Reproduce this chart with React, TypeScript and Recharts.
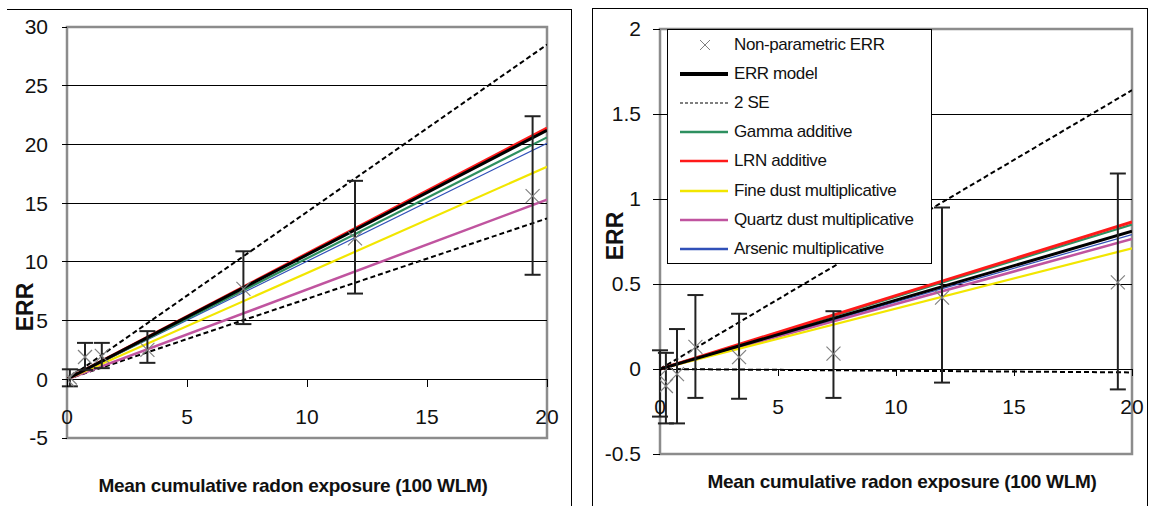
import React from 'react';
import {
  ComposedChart,
  Line,
  Scatter,
  ErrorBar,
  XAxis,
  YAxis,
  ReferenceArea,
  ReferenceLine,
  Legend,
} from 'recharts';

// ---------- shared ----------
const curveX = [0, 20];
const xTicks = [0, 5, 10, 15, 20];

// ---------- left panel ----------
const leftErrModel = [0, 21.2];
const leftUpper2SE = [0, 28.5];
const leftLower2SE = [0, 13.7];
const leftGamma = [0, 20.6];
const leftLrn = [0, 21.4];
const leftFineDust = [0, 18.1];
const leftQuartz = [0, 15.3];
const leftArsenic = [0, 20.1];

const leftPtX = [0, 0.12, 0.75, 1.45, 3.35, 7.35, 12.0, 19.4];
const leftPtY = [0, 0.15, 1.9, 2.0, 2.5, 7.7, 12.0, 15.6];
const leftPtLo = [0, -0.6, 0.8, 0.95, 1.4, 4.7, 7.3, 8.9];
const leftPtHi = [0, 0.85, 3.1, 3.1, 4.1, 10.9, 16.9, 22.4];

const leftYTicks = [-5, 0, 5, 10, 15, 20, 25, 30];
const leftGrid = [0, 5, 10, 15, 20, 25];

// ---------- right panel ----------
const rightErrModel = [0, 0.81];
const rightUpper2SE = [0, 1.64];
const rightLower2SE = [0, -0.02];
const rightGamma = [0, 0.85];
const rightLrn = [0, 0.865];
const rightFineDust = [0, 0.71];
const rightQuartz = [0, 0.765];
const rightArsenic = [0, 0.79];

const rightPtX = [0, 0.25, 0.72, 1.5, 3.35, 7.35, 11.95, 19.4];
const rightPtY = [-0.04, -0.1, -0.03, 0.13, 0.07, 0.09, 0.42, 0.51];
const rightPtLo = [-0.28, -0.32, -0.32, -0.17, -0.175, -0.17, -0.08, -0.12];
const rightPtHi = [0.11, 0.095, 0.235, 0.435, 0.325, 0.34, 0.95, 1.15];

const rightYTicks = [-0.5, 0, 0.5, 1, 1.5, 2];
const rightGrid = [0, 0.5, 1, 1.5];

const legendLabels = [
  'Non-parametric ERR',
  'ERR model',
  '2 SE',
  'Gamma additive',
  'LRN additive',
  'Fine dust multiplicative',
  'Quartz dust multiplicative',
  'Arsenic multiplicative',
];

// ---------- styles ----------
const FONT = '"Liberation Sans", Arial, sans-serif';
const C = {
  err: '#000000',
  se: '#000000',
  gamma: '#2e9060',
  lrn: '#ff1a1a',
  fine: '#f2e600',
  quartz: '#c0549f',
  arsenic: '#3050b8',
  marker: '#808080',
  bar: '#222222',
  frame: '#8c8c8c',
};
const legendStyles = [
  { kind: 'x' },
  { kind: 'line', color: C.err, w: 4 },
  { kind: 'line', color: C.se, w: 1.2, dash: '3 2' },
  { kind: 'line', color: C.gamma, w: 2.5 },
  { kind: 'line', color: C.lrn, w: 2.5 },
  { kind: 'line', color: C.fine, w: 2.5 },
  { kind: 'line', color: C.quartz, w: 2.5 },
  { kind: 'line', color: C.arsenic, w: 2.5 },
];

const mkLine = (ys: number[]) => curveX.map((x, i) => ({ x, y: ys[i] }));
const mkPts = (xs: number[], ys: number[], lo: number[], hi: number[]) =>
  xs.map((x, i) => ({
    x,
    y: ys[i],
    err: hi[i] > lo[i] ? [ys[i] - lo[i], hi[i] - ys[i]] : null,
  }));

const XMark = (props: any) => {
  const { cx, cy } = props;
  if (cx == null || cy == null) return null;
  const r = 7;
  return (
    <g>
      <line x1={cx - r} y1={cy - r} x2={cx + r} y2={cy + r} stroke={C.marker} strokeWidth={1.2} />
      <line x1={cx - r} y1={cy + r} x2={cx + r} y2={cy - r} stroke={C.marker} strokeWidth={1.2} />
    </g>
  );
};

const makeXTick = (zeroOffset: number, labelOffset: number, markLen: number) => (props: any) => {
  const { x, y, payload } = props;
  const zy = y - zeroOffset;
  return (
    <g>
      <line x1={x} y1={zy} x2={x} y2={zy + markLen} stroke="#000" strokeWidth={1} shapeRendering="crispEdges" />
      <text
        x={x}
        y={zy + labelOffset}
        textAnchor="middle"
        dominantBaseline="central"
        fontSize={21}
        fill="#111"
        fontFamily={FONT}
      >
        {payload.value}
      </text>
    </g>
  );
};

const LegendBox = () => (
  <div
    style={{
      width: 265,
      height: 235,
      boxSizing: 'border-box',
      border: '1px solid #000',
      background: '#fff',
      fontFamily: FONT,
      paddingTop: 0,
    }}
  >
    {legendLabels.map((lab, i) => {
      const st: any = legendStyles[i];
      return (
        <div
          key={lab}
          style={{
            position: 'relative',
            height: 29.2,
            display: 'flex',
            alignItems: 'center',
          }}
        >
          <svg width={50} height={14} style={{ marginLeft: 12, flex: 'none' }}>
            {st.kind === 'x' ? (
              <g>
                <line x1={20} y1={2} x2={30} y2={12} stroke={C.marker} strokeWidth={1} />
                <line x1={20} y1={12} x2={30} y2={2} stroke={C.marker} strokeWidth={1} />
              </g>
            ) : (
              <line
                x1={0}
                y1={7}
                x2={48}
                y2={7}
                stroke={st.color}
                strokeWidth={st.w}
                strokeDasharray={st.dash}
              />
            )}
          </svg>
          <span style={{ fontSize: 17, letterSpacing: -0.4, color: '#111', marginLeft: 4, whiteSpace: 'nowrap' }}>
            {lab}
          </span>
        </div>
      );
    })}
  </div>
);

type PanelProps = {
  width: number;
  height: number;
  margin: any;
  yAxisWidth: number;
  xAxisHeight: number;
  yDomain: [number, number];
  yTicks: number[];
  grid: number[];
  tickSize: number;
  tickMargin: number;
  zeroOffset: number;
  labelOffset: number;
  markLen: number;
  lines: { err: number[]; up: number[]; lo: number[]; gamma: number[]; lrn: number[]; fine: number[]; quartz: number[]; ars: number[] };
  pts: any[];
  yTitle: { x: number; y: number };
  xTitle: { x: number; y: number };
  legend?: boolean;
};

const Panel = (p: PanelProps) => {
  const yTitle = () => (
    <text
      x={p.yTitle.x}
      y={p.yTitle.y}
      transform={`rotate(-90, ${p.yTitle.x}, ${p.yTitle.y})`}
      textAnchor="middle"
      dominantBaseline="central"
      fontSize={23}
      fontWeight="bold"
      fill="#111"
      fontFamily={FONT}
    >
      ERR
    </text>
  );
  const xTitle = () => (
    <text
      x={p.xTitle.x}
      y={p.xTitle.y}
      textAnchor="middle"
      dominantBaseline="central"
      fontSize={19}
      fontWeight="bold"
      letterSpacing={-0.3}
      fill="#111"
      fontFamily={FONT}
    >
      Mean cumulative radon exposure (100 WLM)
    </text>
  );
  return (
    <ComposedChart width={p.width} height={p.height} margin={p.margin} style={{ fontFamily: FONT }}>
      {p.grid.map((v) => (
        <ReferenceLine
          key={`g${v}`}
          y={v}
          stroke="#000"
          strokeWidth={1}
          strokeOpacity={1}
          shapeRendering="crispEdges"
          ifOverflow="visible"
        />
      ))}
      <ReferenceArea
        x1={0}
        x2={20}
        y1={p.yDomain[0]}
        y2={p.yDomain[1]}
        fill="none"
        fillOpacity={0}
        stroke={C.frame}
        strokeOpacity={1}
        strokeWidth={2.5}
        ifOverflow="visible"
      />
      <XAxis
        type="number"
        dataKey="x"
        domain={[0, 20]}
        ticks={xTicks}
        allowDataOverflow
        height={p.xAxisHeight}
        axisLine={false}
        tickLine={false}
        tickSize={0}
        tickMargin={0}
        interval={0}
        tick={makeXTick(p.zeroOffset, p.labelOffset, p.markLen)}
        label={{ content: xTitle }}
      />
      <YAxis
        type="number"
        domain={p.yDomain}
        ticks={p.yTicks}
        allowDataOverflow
        width={p.yAxisWidth}
        axisLine={false}
        tickLine={{ stroke: '#000', shapeRendering: 'crispEdges' } as any}
        tickSize={p.tickSize}
        tickMargin={p.tickMargin}
        interval={0}
        tick={{ fontSize: 21, fill: '#111', fontFamily: FONT }}
        label={{ content: yTitle }}
      />
      <Line data={mkLine(p.lines.lo)} dataKey="y" stroke={C.se} strokeWidth={2} strokeDasharray="5 3" dot={false} isAnimationActive={false} />
      <Line data={mkLine(p.lines.up)} dataKey="y" stroke={C.se} strokeWidth={2} strokeDasharray="5 3" dot={false} isAnimationActive={false} />
      <Line data={mkLine(p.lines.quartz)} dataKey="y" stroke={C.quartz} strokeWidth={2.5} dot={false} isAnimationActive={false} />
      <Line data={mkLine(p.lines.fine)} dataKey="y" stroke={C.fine} strokeWidth={2.2} dot={false} isAnimationActive={false} />
      <Line data={mkLine(p.lines.ars)} dataKey="y" stroke={C.arsenic} strokeWidth={1.2} dot={false} isAnimationActive={false} />
      <Line data={mkLine(p.lines.gamma)} dataKey="y" stroke={C.gamma} strokeWidth={2.2} dot={false} isAnimationActive={false} />
      <Line data={mkLine(p.lines.lrn)} dataKey="y" stroke={C.lrn} strokeWidth={3} dot={false} isAnimationActive={false} />
      <Line data={mkLine(p.lines.err)} dataKey="y" stroke={C.err} strokeWidth={3} dot={false} isAnimationActive={false} />
      <Scatter data={p.pts} dataKey="y" shape={XMark} isAnimationActive={false}>
        <ErrorBar dataKey="err" direction="y" width={8} stroke={C.bar} strokeWidth={2} isAnimationActive={false} />
      </Scatter>
      {p.legend ? (
        <Legend
          layout="vertical"
          align="center"
          verticalAlign="middle"
          content={() => <LegendBox />}
          wrapperStyle={{ position: 'absolute', left: 87, top: 29, width: 265, height: 235, margin: 0, padding: 0 }}
        />
      ) : null}
    </ComposedChart>
  );
};

export default function App() {
  return (
    <div
      style={{
        position: 'absolute',
        left: 0,
        top: 0,
        width: 1157,
        height: 506,
        background: '#fff',
        overflow: 'hidden',
        fontFamily: FONT,
      }}
    >
      {/* panel frames */}
      <div style={{ position: 'absolute', left: 7, top: 9, width: 564, height: 520, borderTop: '1px solid #000', borderRight: '1px solid #000' }} />
      <div style={{ position: 'absolute', left: 592, top: 8, width: 556, height: 520, border: '1px solid #000', boxSizing: 'border-box' }} />

      <div style={{ position: 'absolute', left: 0, top: 0 }}>
        <Panel
          width={575}
          height={506}
          margin={{ top: 27, right: 28, bottom: 0, left: 17 }}
          yAxisWidth={50}
          xAxisHeight={68}
          yDomain={[-5, 30]}
          yTicks={leftYTicks}
          grid={leftGrid}
          tickSize={5}
          tickMargin={14}
          zeroOffset={58.7}
          labelOffset={37}
          markLen={8}
          lines={{ err: leftErrModel, up: leftUpper2SE, lo: leftLower2SE, gamma: leftGamma, lrn: leftLrn, fine: leftFineDust, quartz: leftQuartz, ars: leftArsenic }}
          pts={mkPts(leftPtX, leftPtY, leftPtLo, leftPtHi)}
          yTitle={{ x: 25, y: 307 }}
          xTitle={{ x: 293, y: 485 }}
        />
      </div>
      <div style={{ position: 'absolute', left: 580, top: 0 }}>
        <Panel
          width={577}
          height={506}
          margin={{ top: 29, right: 25, bottom: 0, left: 20 }}
          yAxisWidth={60}
          xAxisHeight={52}
          yDomain={[-0.5, 2]}
          yTicks={rightYTicks}
          grid={rightGrid}
          tickSize={7}
          tickMargin={12}
          zeroOffset={85}
          labelOffset={37}
          markLen={7}
          lines={{ err: rightErrModel, up: rightUpper2SE, lo: rightLower2SE, gamma: rightGamma, lrn: rightLrn, fine: rightFineDust, quartz: rightQuartz, ars: rightArsenic }}
          pts={mkPts(rightPtX, rightPtY, rightPtLo, rightPtHi)}
          yTitle={{ x: 35, y: 236 }}
          xTitle={{ x: 322, y: 481 }}
          legend
        />
      </div>
    </div>
  );
}
